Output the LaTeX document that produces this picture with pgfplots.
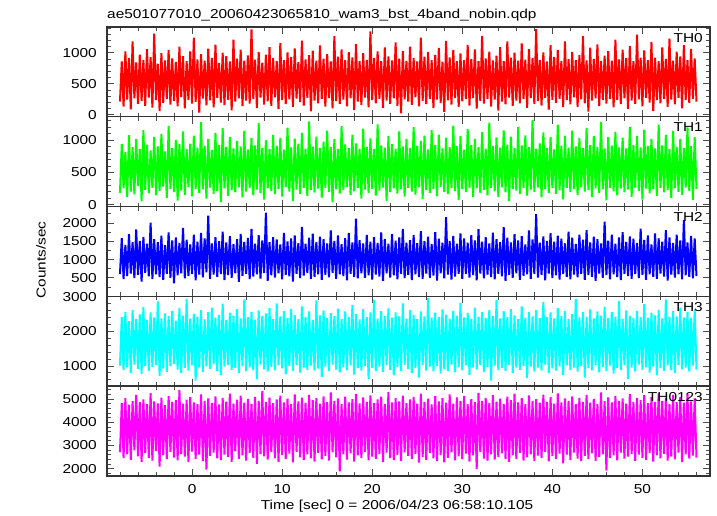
\documentclass[border=0pt]{standalone}
\usepackage{fontspec}
\setmainfont[FakeStretch=1.19]{Liberation Sans}
\usepackage{pgfplots}
\usepackage{pgfplotstable}
\pgfplotsset{compat=1.18}

\definecolor{qred}{RGB}{255,0,0}
\definecolor{qgreen}{RGB}{0,255,0}
\definecolor{qblue}{RGB}{0,0,255}
\definecolor{qcyan}{RGB}{0,255,255}
\definecolor{qmag}{RGB}{255,0,255}

% light curves, 0.2 s steps from -8 s; columns TH0 TH1 TH2 TH3 TH0123
\pgfplotstableread{
r g b c m
214 187 602 1012 2710
863 941 1588 2412 4830
132 256 471 884 2455
1024 812 1402 2560 5040
245 121 553 961 2620
918 1076 1695 2298 4760
88 204 618 802 2380
1187 889 1476 2617 4915
267 163 497 1043 2795
846 1012 1830 2354 5180
176 289 584 917 2530
972 864 1511 2489 4870
221 54 402 768 2290
887 1153 1623 2705 4990
143 232 639 1002 2680
1062 927 1438 2331 4785
279 177 541 856 2470
931 838 2012 2548 5260
115 262 466 973 2345
1311 1049 1562 2402 4905
238 146 597 1031 2760
824 903 1479 2866 4820
61 215 523 712 2095
996 1094 1654 2375 5070
193 281 448 928 2590
879 826 1397 2521 4745
252 109 612 835 2410
1047 1218 1744 2439 5135
164 247 505 989 2725
912 874 1526 2591 4880
226 198 354 1054 2480
855 1001 1608 2312 4955
137 68 571 897 2365
1103 937 1459 2678 5390
285 223 627 804 2640
948 1132 1871 2457 4810
102 154 486 946 2520
867 859 1543 2936 4975
241 276 548 871 2285
1026 942 1417 2365 5085
179 131 603 1018 2735
1248 1067 1682 2503 4865
207 245 433 577 2420
893 881 1493 2426 4790
34 186 589 957 2605
981 1275 1729 2612 5210
262 239 517 823 2330
874 912 1581 2349 4925
151 97 655 994 1960
1069 1019 2205 2559 5030
233 268 476 915 2560
921 848 1446 2683 4840
118 172 591 1047 2695
1135 1108 1618 2394 5115
274 214 528 861 2445
838 926 1507 2475 4770
196 43 607 736 2375
1002 1187 1765 2802 5060
158 257 444 982 2610
947 893 1472 2323 4895
241 139 579 1026 2505
864 1046 1639 2541 5240
73 228 501 887 2300
1213 871 1421 2458 4810
212 192 624 948 2745
906 987 1557 2641 4980
265 271 395 792 2420
1051 903 1702 2378 5155
139 118 560 1001 2575
873 1143 1488 2927 4855
229 205 612 849 2350
958 857 1593 2412 5010
181 263 467 959 2680
1382 1032 1841 2566 4795
254 149 539 878 2465
891 918 1435 2339 5095
107 236 596 613 2210
1017 1261 1668 2604 4930
278 183 483 1038 2640
842 876 1526 2447 5345
165 81 636 905 2530
973 996 2287 2521 4880
218 254 421 842 2390
1094 863 1479 2673 5070
146 217 572 977 2715
917 1079 1612 2356 4825
283 166 508 874 2445
869 912 1553 2809 4990
91 245 627 1019 2300
1156 1033 1418 2431 5150
236 128 462 931 2585
884 851 1734 2587 4860
172 273 584 758 2410
1009 1192 1497 2392 5025
248 204 541 996 2655
935 887 1581 2648 4790
127 59 403 862 2270
1071 1021 1663 2473 5210
261 238 615 1034 2725
852 943 1452 2351 4900
203 171 497 809 2490
1197 1108 1896 2719 5065
149 262 563 951 2370
896 866 1436 2413 4840
272 135 633 883 2615
964 1286 1599 2574 5180
56 227 478 1012 2445
1038 897 1711 2328 4955
229 189 529 871 2305
873 1052 1478 2892 5040
184 253 602 924 2680
1121 874 1626 2463 4810
257 112 451 687 2400
907 973 1559 2604 5120
133 264 588 985 2555
981 1146 1447 2386 4875
269 198 516 846 2355
862 889 1802 2527 5290
104 39 637 1042 2710
1269 1015 1509 2441 4925
221 241 474 898 2485
938 862 1665 2659 5030
176 173 596 817 1890
1055 1213 1423 2358 4780
246 227 549 963 2620
883 934 1587 2574 5105
138 276 431 875 2395
1013 876 1729 2419 4860
265 152 611 1021 2665
926 1084 1468 2763 5000
77 209 527 752 2310
1142 947 2118 2496 5225
213 261 489 938 2580
871 868 1532 2347 4815
157 96 628 866 2455
997 1177 1441 2641 5080
276 236 503 1008 2730
885 893 1676 2409 4885
119 187 574 623 2360
1348 1026 1493 2552 5165
238 249 456 947 2520
914 859 1617 2918 4840
186 144 592 856 2425
1026 1242 1457 2371 4990
259 221 534 982 2640
866 917 1745 2583 5110
112 268 418 828 2290
1087 881 1569 2437 4795
231 63 623 1016 2695
943 1063 1436 2665 5305
177 196 509 891 2460
878 938 1694 2399 4865
264 257 571 732 2370
1168 865 1518 2546 5040
143 176 462 969 2585
905 1131 1607 2432 4900
24 243 612 857 2335
1034 902 1842 2806 5150
249 128 495 1036 2710
871 1017 1463 2369 4830
213 264 586 912 2555
1102 879 1531 2617 4985
162 207 441 801 2415
917 1198 1673 2474 5095
281 158 597 947 2640
862 913 1449 2352 4805
135 271 523 669 2260
1247 986 1781 2579 5235
226 92 478 1028 2505
939 1066 1504 2433 4880
171 232 617 865 2380
1015 857 1626 2961 5020
258 185 505 983 2675
883 1154 1428 2395 4770
107 248 566 847 2445
968 926 1753 2543 5130
244 133 429 1006 2325
1079 1082 1572 2417 4905
189 277 628 778 2590
857 869 1466 2638 5040
46 201 489 921 2270
1193 1036 2164 2482 4855
235 169 593 859 2470
926 889 1509 2371 5210
163 258 455 1041 2705
1047 1221 1647 2592 4810
272 214 538 815 2360
868 907 1434 2456 5075
128 76 615 964 2535
991 1059 1718 2821 4930
217 243 472 873 2400
884 851 1583 2405 5145
254 197 604 1019 2650
1131 1172 1461 2534 4790
149 265 511 742 2305
903 924 1669 2367 5010
268 121 577 956 2580
1058 1013 1527 2687 4875
98 254 436 894 1980
866 888 1832 2426 5270
226 186 621 1033 2715
1276 1125 1493 2558 4920
181 231 487 826 2440
912 867 1615 2393 5060
259 147 592 979 2345
1021 1267 1446 2619 4835
134 259 524 577 2620
879 905 1741 2448 5175
245 208 463 1012 2390
957 1041 1557 2906 4890
69 123 610 879 2505
1093 884 1478 2376 5020
212 272 547 941 2660
868 1149 1887 2587 4800
168 194 419 863 2430
1184 927 1602 2414 5110
277 58 583 1027 2295
925 1052 1469 2643 4955
141 246 502 798 2575
1002 876 1694 2462 5235
231 219 629 954 2410
874 1203 1526 2357 4860
186 167 448 887 2685
1152 917 1641 2721 5045
253 261 561 1004 2355
892 1071 1417 2398 4790
113 142 596 651 2490
1061 893 1798 2565 5160
269 236 473 981 2620
917 1312 1553 2436 4925
176 201 615 837 2330
1385 866 2242 2617 5000
222 268 509 956 2570
883 949 1463 2383 4845
148 115 587 868 2455
1009 1118 1637 2854 5190
274 247 432 1038 2725
862 879 1511 2409 4880
83 183 622 803 2320
1124 1043 1725 2546 5085
242 258 497 931 2540
937 857 1489 2372 4810
193 172 574 866 2415
1048 1237 1658 2668 5245
256 226 458 992 2650
871 912 1576 2441 4865
122 87 611 742 2230
1187 1067 1447 2587 5035
238 264 529 1021 2605
898 884 1766 2359 4930
167 197 463 879 2375
1016 1146 1602 2495 5120
281 248 594 957 2690
884 903 1431 2938 4790
127 153 517 836 2440
963 1028 1685 2406 5060
249 272 609 1008 2325
1272 876 1548 2553 4880
186 206 446 668 2560
879 1187 1809 2421 5180
53 231 581 946 2410
1083 919 1473 2636 4845
228 119 533 873 2665
904 1061 1627 2378 5015
264 256 419 1035 2340
1137 893 1561 2574 4800
142 183 622 814 2515
869 1279 1442 2457 5290
236 241 506 973 2620
956 871 2036 2712 4915
182 71 578 852 1920
1027 1048 1519 2391 5080
257 262 464 1012 2455
873 913 1684 2558 4860
118 209 597 778 2580
1216 1124 1435 2426 5145
243 147 523 946 2360
893 887 1607 2873 4925
171 253 438 881 2695
1054 1037 1752 2365 5030
266 192 614 1027 2435
916 869 1486 2605 4810
96 238 552 619 2520
1108 1203 1633 2448 5215
229 126 473 957 2630
867 921 1571 2389 4870
178 268 609 842 2340
1296 1062 1459 2592 5060
251 216 498 1039 2605
922 887 1848 2417 4955
137 82 582 893 2465
1041 1158 1537 2789 5170
272 251 445 965 2380
883 908 1662 2396 4825
196 177 596 808 2670
1173 1019 1418 2541 5095
58 244 531 987 2305
924 871 1719 2463 4880
238 138 474 728 2575
867 1236 1584 2618 5250
183 262 617 946 2450
1088 917 1492 2372 4930
259 193 538 861 2640
901 1079 1806 2927 5040
126 229 427 1018 2355
1232 863 1611 2425 4790
247 107 589 874 2520
876 1142 1456 2587 5185
169 258 509 793 2405
1019 895 1683 2436 4870
274 201 602 1031 2690
942 1018 1527 2683 5100
102 154 463 902 2280
1127 877 2085 2401 4845
238 267 571 955 2615
883 1196 1469 2563 5220
192 218 528 838 2440
1064 906 1646 2394 4905
256 79 486 1012 2570
911 1043 1583 2627 5035
213 246 551 898 2480
}\lc

\newcommand\lbl{\fontsize{13}{15}\selectfont}

\pgfplotsset{
  panel/.style={
    width=603bp, height=89.8bp, scale only axis, anchor=south west,
    xmin=-9.44, xmax=57.5,
    xtick={0,10,20,30,40,50}, minor xtick={-8,-6,...,56},
    xticklabels={},
    axis line style={black!80, line width=1.4bp},
    major tick length=7bp, minor tick length=4bp,
    every tick/.style={black!70, line width=0.9bp},
    tick align=inside,
    /pgf/number format/assume math mode=true,
    /pgf/number format/1000 sep={},
    scaled y ticks=false,
    tick label style={font=\lbl},
    yticklabel style={anchor=east, inner sep=0pt, xshift=-10bp},
  },
  trace/.style={line width=2bp, line join=bevel},
}
\tikzset{thl/.style={anchor=north east, inner sep=0pt, xshift=-7bp, yshift=-6bp, font=\lbl}}

\begin{document}
\begin{tikzpicture}
\path[use as bounding box] (0,0) rectangle (717bp,516bp);

\begin{axis}[panel, at={(107bp,399.2bp)},
  ymin=-33, ymax=1419, ytick={0,500,1000}, minor ytick={100,200,...,1400}]
\addplot[trace, qred] table[x expr=\coordindex/5-8, y=r]{\lc};
\node[thl] at (rel axis cs:1,1) {TH0};
\end{axis}

\begin{axis}[panel, at={(107bp,309.4bp)},
  ymin=-26, ymax=1358, ytick={0,500,1000}, minor ytick={100,200,...,1300}]
\addplot[trace, qgreen] table[x expr=\coordindex/5-8, y=g]{\lc};
\node[thl] at (rel axis cs:1,1) {TH1};
\end{axis}

\begin{axis}[panel, at={(107bp,219.6bp)},
  ymin=-5, ymax=2451, ytick={500,1000,1500,2000}, minor ytick={250,750,1250,1750,2250}]
\addplot[trace, qblue] table[x expr=\coordindex/5-8, y=b]{\lc};
\node[thl] at (rel axis cs:1,1) {TH2};
\end{axis}

\begin{axis}[panel, at={(107bp,129.8bp)},
  ymin=417, ymax=3011, ytick={1000,2000,3000}, minor ytick={600,800,...,3000}]
\addplot[trace, qcyan] table[x expr=\coordindex/5-8, y=c]{\lc};
\node[thl] at (rel axis cs:1,1) {TH3};
\end{axis}

\begin{axis}[panel, at={(107bp,40bp)},
  ymin=1685, ymax=5560, ytick={2000,3000,4000,5000}, minor ytick={1800,2000,...,5400},
  xticklabels={0,10,20,30,40,50},
  xticklabel style={anchor=north, inner sep=0pt, yshift=-8bp}]
\addplot[trace, qmag] table[x expr=\coordindex/5-8, y=m]{\lc};
\node[thl] at (rel axis cs:1,1) {TH0123};
\end{axis}

\node[anchor=base west, inner sep=0pt, font=\lbl] at (107bp,497bp)
  {ae501077010\_20060423065810\_wam3\_bst\_4band\_nobin.qdp};
\node[rotate=90, inner sep=0pt, font=\lbl] at (41bp,256bp) {Counts/sec};
\node[anchor=base, inner sep=0pt, font=\lbl] at (397bp,6.5bp)
  {Time [sec] 0 = 2006/04/23 06:58:10.105};
\end{tikzpicture}
\end{document}
